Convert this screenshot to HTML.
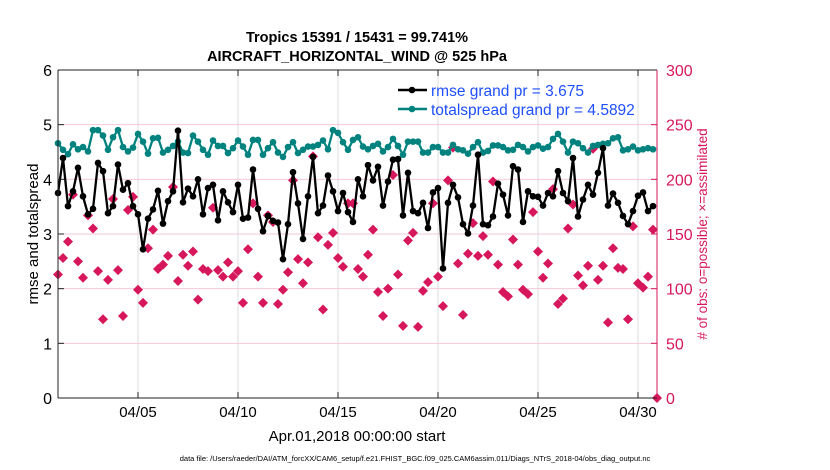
<!DOCTYPE html>
<html><head><meta charset="utf-8"><style>
body{margin:0;background:#fff;}
svg{display:block;font-family:"Liberation Sans",Arial,sans-serif;}
</style></head><body>
<svg id="chart" width="830" height="470" viewBox="0 0 830 470" xmlns="http://www.w3.org/2000/svg">
<rect width="830" height="470" fill="#fff"/>
<text x="357" y="42" text-anchor="middle" font-size="14.5" font-weight="bold">Tropics 15391 / 15431 = 99.741%</text>
<text x="357" y="61" text-anchor="middle" font-size="14.5" font-weight="bold">AIRCRAFT_HORIZONTAL_WIND @ 525 hPa</text>
<g id="grid"></g>
<g id="obs"></g>
<g id="lines"></g>
<g id="axes"></g>
<text transform="translate(38,234) rotate(-90)" text-anchor="middle" font-size="15">rmse and totalspread</text>
<text transform="translate(707,234) rotate(-90)" text-anchor="middle" font-size="13.5" fill="#d6175c"># of obs: o=possible; ×=assimilated</text>
<text x="357" y="441" text-anchor="middle" font-size="15">Apr.01,2018 00:00:00 start</text>
<text x="415" y="461" text-anchor="middle" font-size="7.5">data file: /Users/raeder/DAI/ATM_forcXX/CAM6_setup/f.e21.FHIST_BGC.f09_025.CAM6assim.011/Diags_NTrS_2018-04/obs_diag_output.nc</text>
<g>
<line x1="398" y1="90" x2="427" y2="90" stroke="#000" stroke-width="2.5"/><circle cx="412" cy="90" r="3.3" fill="#000"/>
<text x="431" y="96" font-size="15.5" fill="#1f4fff">rmse grand pr = 3.675</text>
<line x1="398" y1="109" x2="427" y2="109" stroke="#00827f" stroke-width="2.5"/><circle cx="412" cy="109" r="3.3" fill="#00827f"/>
<text x="431" y="115" font-size="15.5" fill="#1f4fff">totalspread grand pr = 4.5892</text>
</g>
</svg>
<script>
const rmse=[3.75,4.39,3.51,3.78,4.21,3.69,3.36,3.46,4.3,4.15,3.38,3.51,4.27,3.81,3.93,3.51,3.36,2.72,3.28,3.45,3.79,3.19,3.6,3.78,4.89,3.58,3.83,3.69,4.0,3.36,3.84,3.9,3.25,3.78,3.58,3.4,3.9,3.28,3.3,4.18,
3.46,3.05,3.33,3.24,3.21,2.54,3.18,4.13,3.56,2.91,3.69,4.41,3.38,3.52,4.07,3.78,3.42,3.75,3.4,3.22,4.0,3.69,4.26,3.98,4.23,3.52,3.96,4.36,4.37,3.34,4.12,3.42,3.38,3.57,3.11,3.76,3.84,2.37,3.57,
3.9,3.67,3.18,3.01,3.52,4.45,3.18,3.16,3.32,3.92,3.72,3.34,4.24,4.18,3.22,3.78,3.69,3.68,3.52,3.75,3.69,4.15,3.75,3.6,4.39,3.32,3.63,3.9,3.72,4.12,4.57,3.52,3.74,3.57,3.33,3.18,3.42,3.7,3.76,3.42,3.51];
const spread=[4.66,4.54,4.46,4.64,4.55,4.59,4.51,4.9,4.9,4.8,4.54,4.77,4.9,4.59,4.51,4.58,4.83,4.69,4.47,4.75,4.76,4.49,4.54,4.61,4.69,4.49,4.48,4.8,4.69,4.54,4.45,4.71,4.61,4.61,4.48,4.57,4.71,4.6,4.45,4.72,
4.72,4.45,4.57,4.68,4.49,4.41,4.59,4.68,4.48,4.54,4.6,4.6,4.63,4.71,4.55,4.9,4.85,4.68,4.54,4.72,4.77,4.6,4.55,4.61,4.65,4.51,4.59,4.74,4.61,4.45,4.69,4.69,4.69,4.49,4.49,4.59,4.59,4.49,4.49,
4.63,4.55,4.53,4.47,4.59,4.68,4.49,4.52,4.62,4.62,4.59,4.53,4.54,4.63,4.59,4.51,4.59,4.62,4.56,4.59,4.74,4.83,4.69,4.49,4.69,4.66,4.57,4.49,4.61,4.63,4.65,4.66,4.75,4.77,4.53,4.55,4.6,4.53,4.55,4.57,4.55];
const obsCount=[113,128,143,186,125,110,167,155,116,72,108,182,117,75,172,184,99,87,137,154,118,122,130,193,107,131,121,134,90,118,116,174,117,111,124,111,116,87,136,178,111,
87,167,161,86,99,115,199,127,105,124,221,147,81,140,151,128,120,178,178,118,111,131,154,97,75,100,204,113,66,144,151,65,98,106,178,111,84,199,
229,123,76,132,160,130,148,131,198,122,97,93,145,122,99,95,170,134,110,123,191,86,91,155,177,112,103,121,228,108,121,69,137,119,118,72,157,105,101,111,154,0];
const xTickLabels=["04/05","04/10","04/15","04/20","04/25","04/30"];
const xTickDays=[5,10,15,20,25,30];
const yLeftTicks=[0,1,2,3,4,5,6];
const yRightTicks=[0,50,100,150,200,250,300];

const L=58,R=657,T=70,B=398,NS="http://www.w3.org/2000/svg";
const xStep=i=>L+i*5; // 6-hourly steps
const xDay=d=>L+(d-1)*20;
const yL=v=>B-(v/6)*(B-T);
const yR=v=>B-(v/300)*(B-T);
function mk(tag,attrs,parent){const e=document.createElementNS(NS,tag);for(const k in attrs)e.setAttribute(k,attrs[k]);parent.appendChild(e);return e;}
const grid=document.getElementById('grid'),axes=document.getElementById('axes'),obs=document.getElementById('obs'),lines=document.getElementById('lines');
xTickDays.forEach((d,k)=>{
  const x=xDay(d);
  const g=mk('line',{x1:x,y1:T,x2:x,y2:B,stroke:'#dcdcdc','stroke-width':1},grid);
  
  
  mk('line',{x1:x,y1:B,x2:x,y2:B-6,stroke:'#222'},axes);
  mk('line',{x1:x,y1:T,x2:x,y2:T+6,stroke:'#222'},axes);
  const t=mk('text',{x:x,y:417,'text-anchor':'middle','font-size':15},axes);
  t.textContent=xTickLabels[k];
  
  
});
yLeftTicks.forEach(v=>{
  const y=yL(v);
  if(v>0&&v<6){const g=mk('line',{x1:L,y1:y,x2:R,y2:y,stroke:'#f6c9d8','stroke-width':1},grid);
    
    }
  mk('line',{x1:L,y1:y,x2:L+6,y2:y,stroke:'#222'},axes);
  const t=mk('text',{x:52,y:y+6,'text-anchor':'end','font-size':16},axes);
  t.textContent=v;
  
  
});
yRightTicks.forEach(v=>{
  const y=yR(v);
  mk('line',{x1:R,y1:y,x2:R-6,y2:y,stroke:'#d6175c'},axes);
  const t=mk('text',{x:666,y:y+6,'font-size':16,fill:'#d6175c'},axes);
  t.textContent=v;
  
  
});
mk('line',{x1:L,y1:T,x2:R,y2:T,stroke:'#222'},axes);
mk('line',{x1:L,y1:B,x2:R,y2:B,stroke:'#222'},axes);
mk('line',{x1:L,y1:T,x2:L,y2:B,stroke:'#222'},axes);
mk('line',{x1:R,y1:T,x2:R,y2:B,stroke:'#d6175c'},axes);

obsCount.forEach((v,i)=>{
  const x=Math.min(xStep(i),R),y=yR(v),s=5;
  const p=mk('polygon',{points:`${x},${y-s} ${x+s},${y} ${x},${y+s} ${x-s},${y}`,fill:'#d6175c'},obs);
  
  
});
function series(vals,color,name){
  const pl=mk('polyline',{points:vals.map((v,i)=>xStep(i)+','+yL(v)).join(' '),fill:'none',stroke:color,'stroke-width':2.3,'stroke-linejoin':'round'},lines);
  
  
  vals.forEach((v,i)=>{
    const c=mk('circle',{cx:xStep(i),cy:yL(v),r:3.3,fill:color},lines);
    
    
  });
}
series(spread,'#00827f','totalspread');
series(rmse,'#000','rmse');
</script>
</body></html>
